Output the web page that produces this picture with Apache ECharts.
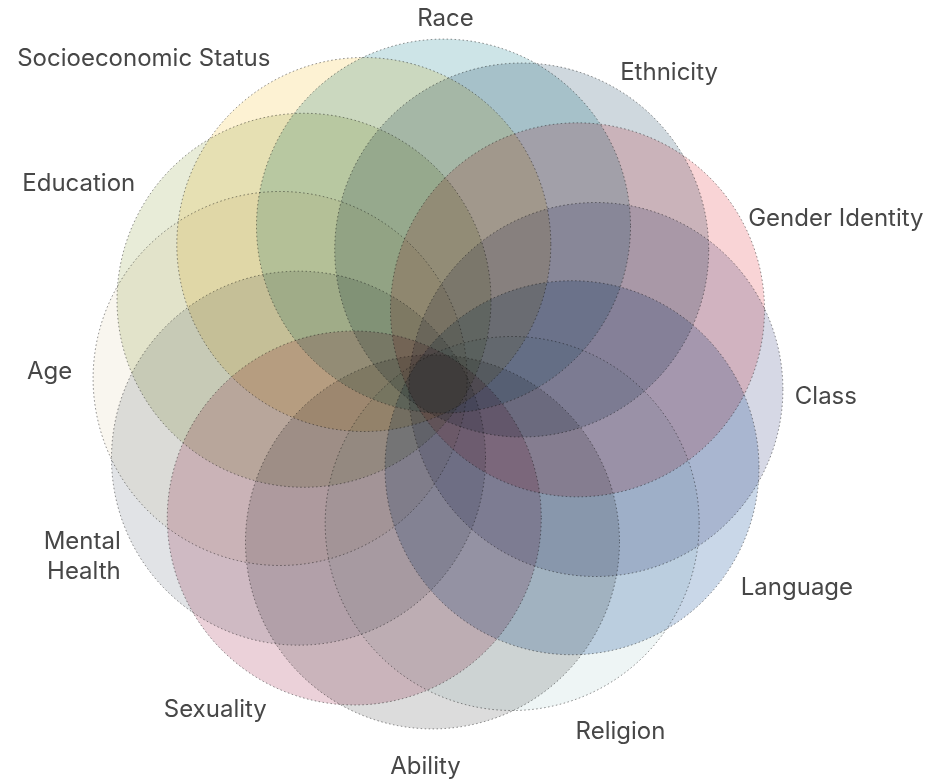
<!DOCTYPE html>
<html lang="en">
<head>
  <meta charset="UTF-8">
  <title>Intersectionality</title>
  <script src="https://cdn.jsdelivr.net/npm/echarts@6/dist/echarts.min.js"></script>
  <style>html, body { margin: 0; padding: 0; background: #fff; }</style>
</head>
<body>
  <div id="container" style="width: 929px; height: 781px;"></div>
  <script>
    // identities, clockwise from the top
    var categories = ['Race', 'Ethnicity', 'Gender Identity', 'Class', 'Language', 'Religion',
      'Ability', 'Sexuality', 'Mental Health', 'Age', 'Education', 'Socioeconomic Status'];
    // how far each circle's centre sits from the middle
    var centerDistance = [158, 158, 158, 158, 158, 158, 158, 158, 158, 158, 158, 158];
    // radius of each circle
    var circleRadius = [187, 187, 187, 187, 187, 187, 187, 187, 187, 187, 187, 187];
    var colors = ['#cde4e7', '#cfd8de', '#f9d4d6', '#d6d8e5', '#c9d7e8', '#eef5f5',
      '#dcdcdc', '#ebd1d9', '#e1e3e6', '#f9f6ef', '#e8ecd8', '#fdf2d3'];

    // small label nudges (padding: top, right, bottom, left)
    var labelNudge = {
      'Race': [0, 10, -7, 0],
      'Ethnicity': [0, 0, -7, -7],
      'Gender Identity': [0, 0, -17, -5],
      'Class': [6, 0, -6, 0],
      'Religion': [18, 0, 0, -30],
      'Ability': [11, 0, 0, 0],
      'Sexuality': [8, -18, 0, 0],
      'Mental Health': [-25, 2, 0, 0],
      'Age': [0, 9, 0, 0],
      'Education': [0, 0, -4, 0],
      'Socioeconomic Status': [0, 0, -5, 0]
    };

    var myChart = echarts.init(document.getElementById('container'));

    var seriesData = categories.map(function (name, i) {
      return {
        name: name,
        value: [centerDistance[i], name, circleRadius[i]],
        itemStyle: { color: colors[i] }
      };
    });

    var angleData = categories.map(function (name) {
      return labelNudge[name] ? { value: name, textStyle: { padding: labelNudge[name] } } : name;
    });

    myChart.setOption({
      backgroundColor: '#fff',
      animation: false,
      polar: {
        center: [438, 384],
        radius: 345
      },
      radiusAxis: {
        show: false,
        min: 0,
        max: 345
      },
      angleAxis: {
        type: 'category',
        data: angleData,
        startAngle: 88,
        boundaryGap: false,
        axisLine: { show: false },
        axisTick: { show: false },
        splitLine: { show: false },
        axisLabel: {
          margin: 12,
          color: '#474747',
          fontSize: 24,
          lineHeight: 30,
          fontFamily: 'Inter',
          formatter: function (v) {
            return v === 'Mental Health' ? 'Mental\nHealth' : v;
          }
        }
      },
      series: [{
        type: 'custom',
        coordinateSystem: 'polar',
        blendMode: 'multiply',
        renderItem: function (params, api) {
          var c = api.coord([api.value(0), api.value(1)]);
          var edge = api.coord([api.value(2), api.value(1)]);
          var cs = params.coordSys;
          var r = Math.sqrt(Math.pow(edge[0] - cs.cx, 2) + Math.pow(edge[1] - cs.cy, 2));
          return {
            type: 'circle',
            shape: { cx: c[0], cy: c[1], r: r },
            style: {
              fill: api.visual('color'),
              stroke: '#8c8c8c',
              lineWidth: 1,
              lineDash: [1.5, 2.5]
            }
          };
        },
        data: seriesData
      }]
    });
  </script>
</body>
</html>
